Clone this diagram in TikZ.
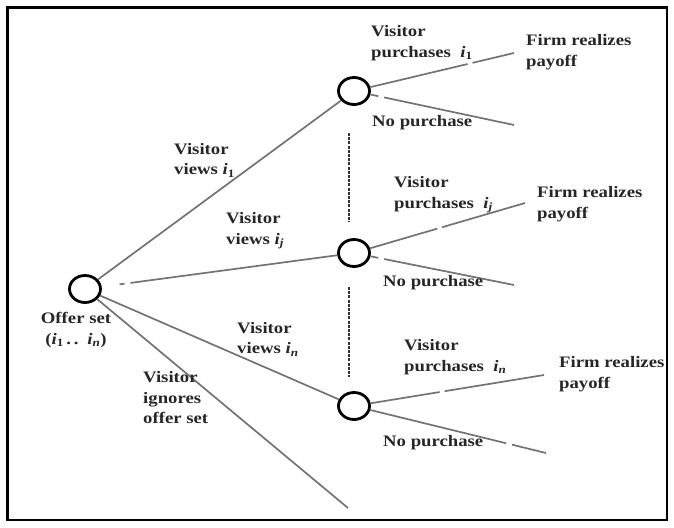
\documentclass[tikz,border=0pt]{standalone}
\usepackage{fontspec}
\setmainfont{Liberation Serif}[FakeStretch=1.17]
\usetikzlibrary{shapes.geometric}
\begin{document}
\begin{tikzpicture}[x=1pt,y=-1pt,
  state/.style={ellipse,draw=black,line width=2.8pt,minimum width=31pt,minimum height=27pt,inner sep=0pt,fill=white},
  lbl/.style={anchor=west,align=left,inner sep=0pt,font=\fontsize{16}{20.5}\selectfont\bfseries,text=black!85},
  edge/.style={draw=black!55,line width=1.7pt},
  gapA/.style={dash pattern=on 100pt off 5pt on 400pt},
  gapB/.style={dash pattern=on 8pt off 6pt on 400pt},
  vdots/.style={draw=black!80,line width=2.8pt,dash pattern=on 3pt off 1.2pt}]
\useasboundingbox (0,0) rectangle (674,527);
\draw[line width=2.2pt] (7.5,7.5) rectangle (667,520);

% states
\node[state] (root) at (85,289) {};
\node[state] (top) at (354,91) {};
\node[state] (mid) at (354,253) {};
\node[state] (bot) at (354,406) {};

% free ends
\coordinate (ign) at (348,508);
\coordinate (t1) at (514,53);
\coordinate (t2) at (514,125);
\coordinate (m1) at (525,203);
\coordinate (m2) at (514,285);
\coordinate (b1) at (544,375);
\coordinate (b2) at (546,453);
\coordinate (d1a) at (349,133);
\coordinate (d1b) at (349,222);
\coordinate (d2a) at (349,287);
\coordinate (d2b) at (349,377);

% connectors
\draw[edge] (root) -- (top);
\draw[edge,dash pattern=on 0pt off 18pt on 5pt off 6pt on 400pt] (root) -- (mid);
\draw[edge] (root) -- (bot);
\draw[edge] (root) -- (ign);
\draw[edge,gapA] (top) -- (t1);
\draw[edge,gapB] (top) -- (t2);
\draw[edge,dash pattern=on 70pt off 5pt on 400pt] (mid) -- (m1);
\draw[edge,gapB] (mid) -- (m2);
\draw[edge,dash pattern=on 70pt off 5pt on 400pt] (bot) -- (b1);
\draw[edge,dash pattern=on 140pt off 6pt on 400pt] (bot) -- (b2);
\draw[vdots] (d1a) -- (d1b);
\draw[vdots] (d2a) -- (d2b);

% labels
\node[lbl] (p1) at (371,43) {Visitor\\purchases\ \ \textit{i}\textsubscript{1}};
\node[lbl] (f1) at (526,52) {Firm realizes\\payoff};
\node[lbl] (n1) at (372,123) {No purchase};
\node[lbl] (v1) at (174,160) {Visitor\\views \textit{i}\textsubscript{1}};
\node[lbl] (vj) at (226,231) {Visitor\\views \textit{i}\textsubscript{\textit{j}}};
\node[lbl] (pj) at (394,195) {Visitor\\purchases\ \ \textit{i}\textsubscript{\textit{j}}};
\node[lbl] (fj) at (537,204) {Firm realizes\\payoff};
\node[lbl] (nj) at (383,283) {No purchase};
\node[lbl,anchor=center,align=center] (os) at (76,330) {Offer set\\(\textit{i}\textsubscript{1}\,.\,.\, \textit{i}\textsubscript{\textit{n}})};
\node[lbl] (vn) at (237,339) {Visitor\\views \textit{i}\textsubscript{\textit{n}}};
\node[lbl] (pn) at (404,357) {Visitor\\purchases\ \ \textit{i}\textsubscript{\textit{n}}};
\node[lbl] (fn) at (559,374) {Firm realizes\\payoff};
\node[lbl] (nn) at (383,443) {No purchase};
\node[lbl] (ig) at (143,398) {Visitor\\ignores\\offer set};
\end{tikzpicture}
\end{document}
